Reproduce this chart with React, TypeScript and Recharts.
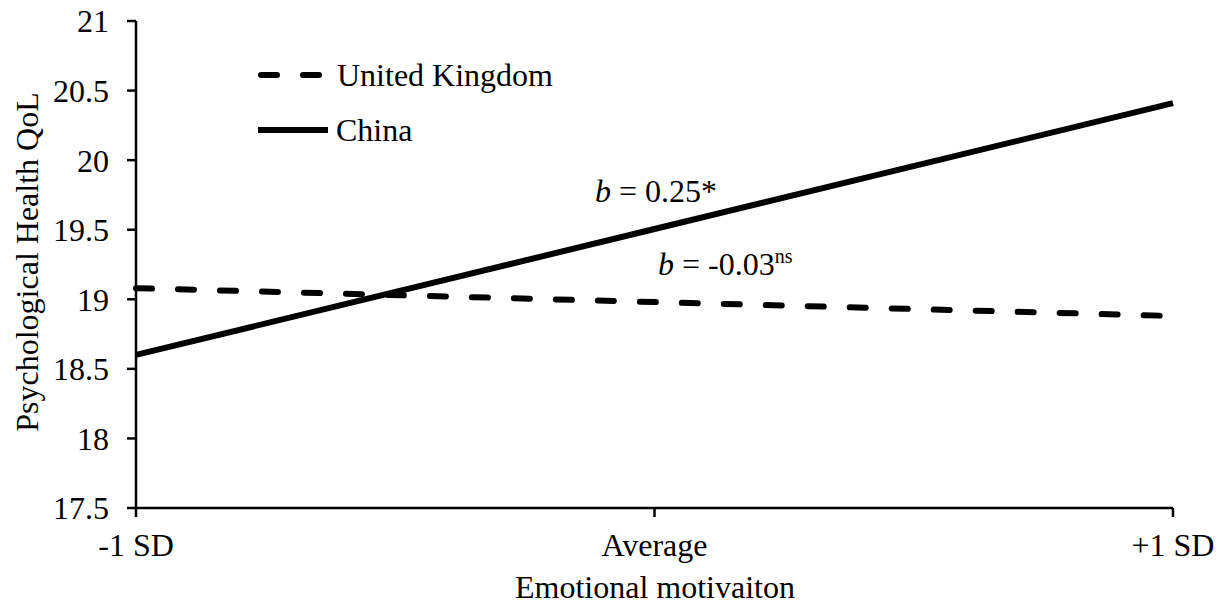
import React from 'react';
import { LineChart, Line, XAxis, YAxis, Legend } from 'recharts';

const levels = ['-1 SD', 'Average', '+1 SD'];
const ukValues = [19.08, 18.98, 18.88];
const chinaValues = [18.6, 19.505, 20.41];
const yTicks = [17.5, 18, 18.5, 19, 19.5, 20, 20.5, 21];

const data = levels.map((level, i) => ({ level, uk: ukValues[i], china: chinaValues[i] }));

const FONT = '"Liberation Serif", "Times New Roman", serif';
const FS = 32;

const LegendBox = () => (
  <div style={{ fontFamily: FONT, fontSize: FS, color: '#000', lineHeight: 1 }}>
    <div style={{ display: 'flex', alignItems: 'center', height: 40 }}>
      <svg width={79} height={10}>
        <line x1={3} y1={5} x2={66} y2={5} stroke="#000" strokeWidth={6} strokeDasharray="16 26" strokeLinecap="round" />
      </svg>
      <span>United Kingdom</span>
    </div>
    <div style={{ display: 'flex', alignItems: 'center', height: 40, marginTop: 15 }}>
      <svg width={78} height={10}>
        <line x1={0} y1={5} x2={70} y2={5} stroke="#000" strokeWidth={6} />
      </svg>
      <span>China</span>
    </div>
  </div>
);

const App: React.FC = () => (
  <div style={{ position: 'absolute', left: 0, top: 0, width: 1230, height: 605, background: '#fff' }}>
    <LineChart width={1230} height={605} data={data} margin={{ top: 21, right: 57, bottom: 37, left: 0 }}>
      <XAxis
        dataKey="level"
        height={60}
        axisLine={{ stroke: '#000', strokeWidth: 2.5 }}
        tickLine={{ stroke: '#000', strokeWidth: 2.5 }}
        tickSize={9}
        tickMargin={16}
        tick={{ fill: '#000', fontSize: FS, fontFamily: FONT }}
        interval={0}
      />
      <YAxis
        width={136}
        domain={[17.5, 21]}
        ticks={yTicks}
        axisLine={{ stroke: '#000', strokeWidth: 2.5 }}
        tickLine={{ stroke: '#000', strokeWidth: 2.5 }}
        tickSize={9}
        tickMargin={18}
        tick={{ fill: '#000', fontSize: FS, fontFamily: FONT }}
      />
      <Legend
        layout="vertical"
        align="center"
        verticalAlign="middle"
        content={() => <LegendBox />}
        wrapperStyle={{ position: 'absolute', left: 258, top: 55, width: 320 }}
      />
      <Line
        type="linear"
        dataKey="uk"
        name="United Kingdom"
        stroke="#000"
        strokeWidth={6}
        strokeDasharray="16 26"
        strokeLinecap="round"
        dot={false}
        activeDot={false}
        isAnimationActive={false}
      />
      <Line
        type="linear"
        dataKey="china"
        name="China"
        stroke="#000"
        strokeWidth={6}
        dot={false}
        activeDot={false}
        isAnimationActive={false}
      />
      <text x={27} y={262} transform="rotate(-90 27 262)" textAnchor="middle" dominantBaseline="central" fontFamily={FONT} fontSize={FS} fill="#000">
        Psychological Health QoL
      </text>
      <text x={655} y={598} textAnchor="middle" fontFamily={FONT} fontSize={FS} fill="#000">
        Emotional motivaiton
      </text>
      <text x={595} y={202} fontFamily={FONT} fontSize={FS} fill="#000">
        <tspan fontStyle="italic">b</tspan>
        <tspan> = 0.25*</tspan>
      </text>
      <text x={658} y={275} fontFamily={FONT} fontSize={FS} fill="#000">
        <tspan fontStyle="italic">b</tspan>
        <tspan> = -0.03</tspan>
        <tspan fontSize={20} dy={-12}>ns</tspan>
      </text>
    </LineChart>
  </div>
);

export default App;
